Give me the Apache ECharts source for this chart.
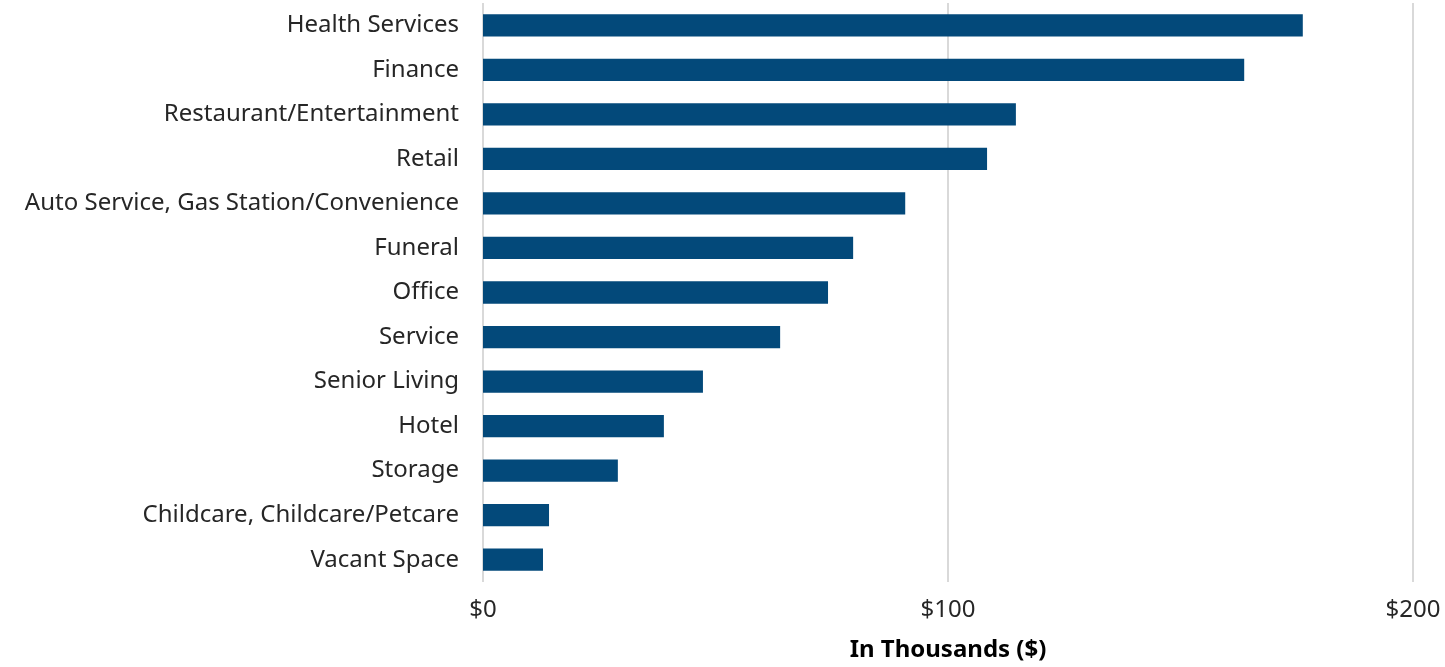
<!DOCTYPE html>
<html>
<head>
<meta charset="utf-8">
<script src="https://cdn.jsdelivr.net/npm/echarts@6/dist/echarts.min.js"></script>
<style>
  html, body { margin: 0; padding: 0; background: #fff; }
  #chart { width: 1445px; height: 667px; }
</style>
</head>
<body>
<div id="chart"></div>
<script>
const categories = [
  "Health Services",
  "Finance",
  "Restaurant/Entertainment",
  "Retail",
  "Auto Service, Gas Station/Convenience",
  "Funeral",
  "Office",
  "Service",
  "Senior Living",
  "Hotel",
  "Storage",
  "Childcare, Childcare/Petcare",
  "Vacant Space",
];
const values = [176.3, 163.7, 114.6, 108.4, 90.8, 79.6, 74.2, 63.9, 47.3, 38.9, 29.0, 14.2, 12.9];
const xTicks = [0, 100, 200];
const xTitle = "In Thousands ($)";

const BAR = "#03497a";
const GRID = "#d9d9d9";
const TEXT = "#262626";
const FONT = "'Noto Sans', 'Open Sans', sans-serif";

const chart = echarts.init(document.getElementById("chart"));
chart.setOption({
  animation: false,
  grid: {
    left: 483, right: 32, top: 3, bottom: 85,
    containLabel: false,
    outerBoundsMode: "none",
  },
  xAxis: {
    type: "value",
    min: xTicks[0],
    max: xTicks[xTicks.length - 1],
    interval: xTicks[1] - xTicks[0],
    axisLine: { show: false },
    axisTick: { show: false },
    splitLine: { show: true, lineStyle: { color: GRID, width: 2 } },
    axisLabel: {
      color: TEXT,
      fontFamily: FONT,
      fontSize: 24,
      margin: 16,
      formatter: (v) => "$" + v,
    },
    name: xTitle,
    nameLocation: "middle",
    nameGap: 56,
    nameTextStyle: { color: "#000", fontFamily: FONT, fontSize: 24, fontWeight: "bold" },
  },
  yAxis: {
    type: "category",
    inverse: true,
    data: categories,
    axisLine: { show: false },
    axisTick: { show: false },
    axisLabel: { color: TEXT, fontFamily: FONT, fontSize: 24, margin: 24 },
  },
  series: [
    {
      type: "bar",
      data: values,
      barWidth: "50%",
      itemStyle: { color: BAR },
    },
  ],
});
</script>
</body>
</html>
